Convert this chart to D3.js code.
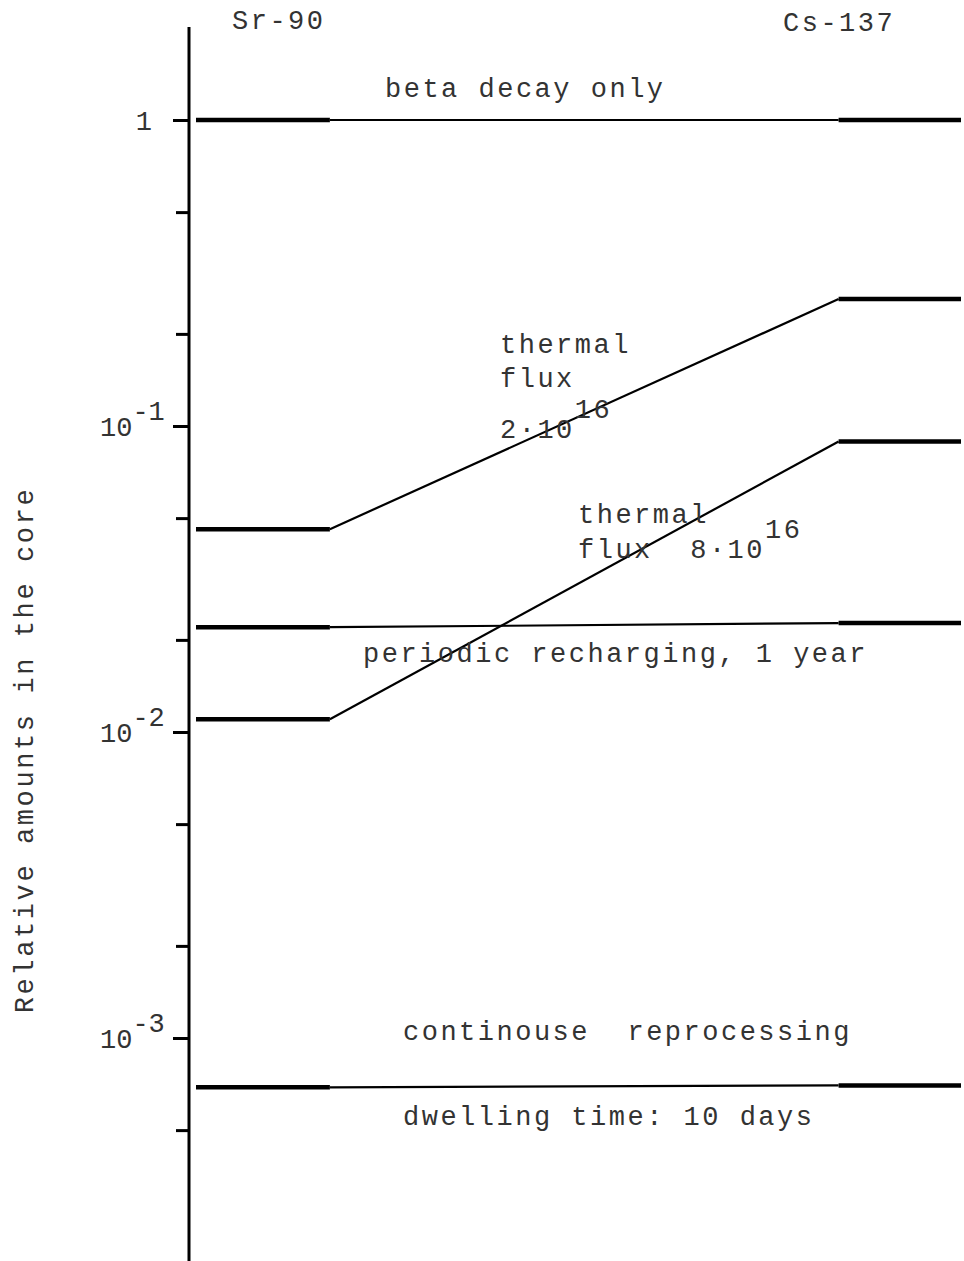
<!DOCTYPE html>
<html>
<head>
<meta charset="utf-8">
<script src="https://cdn.jsdelivr.net/npm/d3@7"></script>
<style>
  body { margin: 0; background: #fff; }
  text { font-family: "Liberation Mono", "DejaVu Sans Mono", monospace; fill: #333; }
</style>
</head>
<body>
<div id="chart"></div>
<script>
// data
var nuclides = ["Sr-90", "Cs-137"]
var scenarios = ["beta decay only", "thermal flux 2e16", "thermal flux 8e16", "periodic recharging, 1 year", "continouse reprocessing"]
var sr90 = [1, 0.046, 0.011, 0.022, 0.00069]
var cs137 = [1, 0.26, 0.089, 0.0227, 0.0007]
var majorTicks = [1, 0.1, 0.01, 0.001]
var majorExp = ["", "-1", "-2", "-3"]
var minorTicks = [0.5, 0.2, 0.05, 0.02, 0.005, 0.002, 0.0005]

var W = 964, H = 1261
var svg = d3.select("#chart").append("svg")
    .attr("width", W)
    .attr("height", H)

var y = d3.scaleLog()
    .domain([1, 0.001])
    .range([120, 1038])

// x: stage position, 0..100 (Sr plateau, transition, Cs plateau)
var x = d3.scaleLinear()
    .domain([0, 100])
    .range([196, 961])
var stops = [0, 17.5, 84, 100]

// axis line
svg.append("line")
    .attr("x1", 189).attr("x2", 189)
    .attr("y1", 27).attr("y2", H)
    .attr("stroke", "#000")
    .attr("stroke-width", 3)

// major + minor ticks
var gMaj = svg.append("g")
    .attr("transform", "translate(189,0)")
    .call(d3.axisLeft(y).tickValues(majorTicks).tickSize(16).tickFormat(""))
gMaj.select(".domain").remove()
gMaj.selectAll("text").remove()
gMaj.selectAll("line").attr("stroke", "#000").attr("stroke-width", 3)

var gMin = svg.append("g")
    .attr("transform", "translate(189,0)")
    .call(d3.axisLeft(y).tickValues(minorTicks).tickSize(13).tickFormat(""))
gMin.select(".domain").remove()
gMin.selectAll("text").remove()
gMin.selectAll("line").attr("stroke", "#000").attr("stroke-width", 3)

// tick labels
majorTicks.forEach(function(v, i) {
    var t = svg.append("text")
        .attr("y", y(v) + 10)
        .style("font-size", "27px")
    if (i == 0) {
        t.attr("x", 152).attr("text-anchor", "end").text("1")
    } else {
        t.attr("x", 100)
        t.append("tspan").text("10")
        t.append("tspan").attr("dy", -16).text(majorExp[i])
    }
})

// curves
var thick = 4.5, thin = 2.2
scenarios.forEach(function(s, i) {
    var a = sr90[i], b = cs137[i]
    svg.append("line")
        .attr("x1", x(stops[0])).attr("x2", x(stops[1]))
        .attr("y1", y(a)).attr("y2", y(a))
        .attr("stroke", "#000").attr("stroke-width", thick)
    svg.append("line")
        .attr("x1", x(stops[1])).attr("x2", x(stops[2]))
        .attr("y1", y(a)).attr("y2", y(b))
        .attr("stroke", "#000").attr("stroke-width", thin)
    svg.append("line")
        .attr("x1", x(stops[2])).attr("x2", x(stops[3]))
        .attr("y1", y(b)).attr("y2", y(b))
        .attr("stroke", "#000").attr("stroke-width", thick)
})

function label(tx, ty, str) {
    return svg.append("text")
        .attr("x", tx).attr("y", ty)
        .style("font-size", "27px")
        .style("letter-spacing", "2.5px")
        .style("white-space", "pre")
        .text(str)
}

// headers
label(232, 29, nuclides[0])
label(783, 31, nuclides[1])

// annotations
label(385, 97, "beta decay only")
label(500, 353, "thermal")
label(500, 387, "flux")
var f1 = label(500, 438, "")
f1.append("tspan").text("2·10")
f1.append("tspan").attr("dy", -20).text("16")
label(578, 523, "thermal")
var f2 = label(578, 558, "")
f2.append("tspan").text("flux  8·10")
f2.append("tspan").attr("dy", -20).text("16")
label(363, 662, "periodic recharging, 1 year")
label(403, 1040, "continouse  reprocessing")
label(403, 1125, "dwelling time: 10 days")

// y title
svg.append("text")
    .attr("transform", "translate(33,750) rotate(-90)")
    .attr("text-anchor", "middle")
    .style("font-size", "27px")
    .style("letter-spacing", "2.6px")
    .text("Relative amounts in the core")
</script>
</body>
</html>
